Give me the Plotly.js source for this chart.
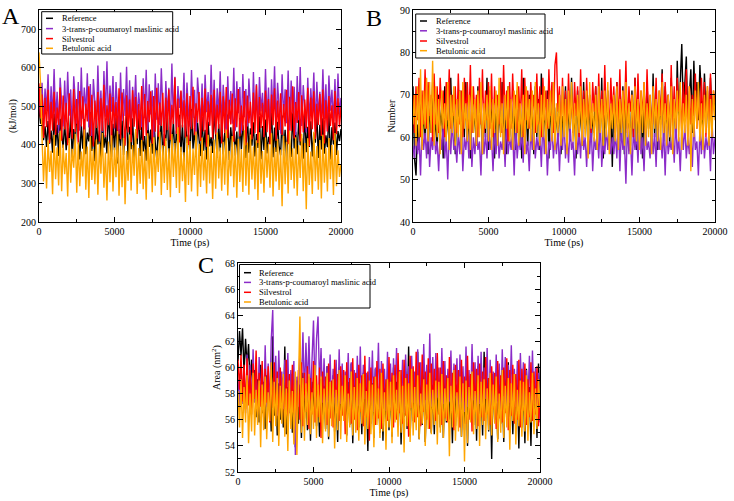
<!DOCTYPE html>
<html>
<head>
<meta charset="utf-8">
<script src="https://cdn.plot.ly/plotly-3.0.1.min.js"></script>
<style>html,body{margin:0;padding:0;background:#fff;}#chart{width:734px;height:501px;}</style>
</head>
<body>
<div id="chart"></div>
<script>
// ---------- DATA ----------
const seriesNames = ["Reference", "3-trans-p-coumaroyl maslinic acid", "Silvestrol", "Betulonic acid"];
const seriesColors = ["#000000", "#8B2BC8", "#FF0000", "#FFA500"];
const timeMax = 20000;

// Panel A: energy (kJ/mol)
const energyReference = [500,455,470,412,448,395,462,403,437,380,481,398,452,371,468,420,392,459,386,444,
405,476,367,441,398,489,415,362,453,390,467,376,432,409,485,384,449,358,471,401,
438,365,462,393,426,378,494,407,369,455,386,472,352,441,397,463,374,418,481,361,
447,389,469,366,433,402,490,371,456,383,423,359,466,395,440,377,475,404,363,451,
388,470,372,429,410,486,364,448,392,461,369,437,398,478,381,452,356,466,405,427,
376,493,390,444,368,458,401,371,473,385,439,362,460,396,420,379,488,408,367,454,
383,468,375,431,400,479,361,446,394,463,372,435,357,470,389,451,406,366,484,380,
443,398,459,370,428,392,474,363,449,387,466,378,421,403,491,368,445,382,460,397,
373,476,385,439,359,457,404,369,482,391,434,376,465,399,417,364,488,381,447,395,
461,370,430,406,478,366,452,388,469,377,425,394,484,362,446,401,458,374,436,410,441];
const energyMaslinic = [530,478,561,452,546,489,583,441,552,470,597,463,538,431,574,495,448,567,459,590,
476,544,427,578,501,455,563,437,601,468,549,480,586,445,558,423,571,492,451,606,
466,541,434,592,473,617,458,554,486,579,440,563,497,428,588,462,545,475,603,449,
568,426,551,484,581,457,536,493,446,573,469,595,438,557,479,542,421,585,465,560,
452,599,488,433,566,474,548,443,611,460,577,429,553,496,539,467,587,436,562,481,
447,594,470,543,425,575,499,458,559,439,582,485,537,450,608,463,569,432,547,477,
591,444,556,490,424,578,468,540,455,600,437,565,482,550,430,584,472,545,448,572,
494,427,589,461,558,441,576,487,535,453,597,466,549,434,570,478,604,445,561,491,
429,583,471,544,456,593,438,567,483,551,426,579,464,602,449,555,495,432,574,459,
547,480,588,442,564,473,538,451,596,467,557,435,580,489,543,457,571,446,585,476,522];
const energySilvestrol = [560,470,531,418,522,446,543,405,512,437,538,426,497,452,549,411,528,440,509,399,
534,457,416,545,433,519,402,540,448,526,414,507,461,552,423,530,396,515,444,537,
409,521,436,556,420,503,451,533,401,524,443,511,428,547,415,536,455,398,529,432,
518,407,542,447,525,417,506,439,553,412,532,424,514,459,539,403,527,434,548,421,
510,449,535,397,523,438,544,413,504,454,575,429,520,406,541,445,516,419,534,400,
527,441,551,425,508,458,537,410,522,435,546,395,513,450,530,416,543,427,505,442,
538,404,526,431,550,418,517,453,533,408,521,446,545,422,502,437,540,399,528,456,
512,414,536,430,555,405,524,444,509,420,541,433,519,401,531,451,547,411,515,439,
534,426,506,448,543,402,525,436,552,417,511,457,537,409,529,432,518,444,548,397,
523,441,539,415,507,452,532,423,544,404,516,435,527,449,503,412,540,428,521,446,498];
const energyBetulonic = [640,560,420,305,398,287,412,330,385,272,426,311,394,295,437,280,401,324,379,266,
418,302,390,341,429,276,407,293,383,318,440,284,396,262,421,309,389,298,414,271,
402,325,431,289,380,256,409,303,425,279,393,316,436,268,398,290,418,246,384,307,
427,282,400,320,441,273,392,299,413,285,388,258,430,312,404,277,420,294,386,330,
434,270,399,301,417,283,391,264,428,317,405,288,446,275,395,306,381,252,422,296,
410,279,390,322,435,267,403,291,419,308,387,274,426,300,397,260,414,286,432,313,
393,281,408,297,440,269,385,319,423,290,401,263,416,304,389,278,438,294,406,271,
427,310,396,285,412,257,433,299,384,276,419,315,402,289,430,266,394,305,415,283,
388,241,424,298,408,274,437,309,391,287,420,268,399,314,429,280,405,233,417,296,
383,273,434,306,397,284,413,261,426,302,392,279,418,311,400,270,431,293,386,317,350];

// Panel B: number
const numberReference = [72,55,51,63,57,69,58,66,60,71,56,68,61,73,59,65,57,70,62,67,
55,72,60,66,58,74,61,69,56,67,63,71,57,68,60,73,59,65,55,70,
61,67,58,72,62,69,56,66,60,74,57,71,63,68,55,70,59,66,61,73,
58,67,56,72,60,69,62,65,57,71,59,68,55,74,61,66,58,70,63,67,
56,72,60,69,57,75,62,66,59,71,55,68,61,73,58,67,60,70,56,65,
63,72,57,69,59,74,61,66,55,71,60,68,58,73,62,67,56,70,59,65,
61,72,57,69,60,74,55,66,62,71,58,68,53,70,61,73,57,67,59,72,
56,69,62,65,58,71,60,74,57,68,61,70,55,67,59,73,62,69,58,75,
60,71,57,68,63,76,59,72,61,70,58,74,62,69,60,78,64,73,82,66,
72,79,63,70,76,61,78,67,73,64,77,69,62,75,66,71,60,74,65,70,67];
const numberMaslinic = [58,55,62,56,60,51,63,57,61,55,64,53,60,57,62,56,59,52,61,57,
63,55,60,50,62,56,64,57,59,54,61,56,63,52,60,57,62,55,64,53,
60,56,62,57,59,51,63,56,61,55,64,57,60,52,62,56,63,55,59,57,
61,53,64,56,60,57,62,51,63,55,60,57,61,54,64,56,59,52,62,57,
63,55,60,57,61,53,64,56,62,51,59,57,63,55,60,56,62,52,61,57,
64,55,60,54,63,57,59,51,62,56,61,55,64,57,60,53,62,56,63,52,
60,57,61,55,64,53,59,56,62,57,63,56,60,56,61,55,64,52,62,57,
59,49,63,56,60,51,62,57,61,54,64,56,60,52,63,57,59,55,62,56,
61,53,64,57,60,55,62,51,63,56,59,57,61,54,64,56,60,52,62,57,
63,55,60,56,61,53,64,57,59,51,62,56,63,55,60,57,61,52,64,56,60];
const numberSilvestrol = [70,61,72,64,74,60,71,63,76,62,73,65,70,59,75,63,72,61,74,66,
71,60,73,64,76,62,70,65,72,61,75,63,71,60,74,64,73,62,77,61,
72,65,70,60,74,63,76,61,71,64,73,62,75,60,72,66,70,63,74,61,
77,64,71,59,73,62,75,65,70,61,72,63,76,60,74,64,71,62,73,66,
70,61,75,63,72,60,74,64,71,62,76,65,73,61,77,80,66,72,60,74,
63,71,62,75,64,70,61,73,65,72,60,76,63,71,62,74,64,70,61,73,
66,72,60,75,63,71,62,77,64,70,61,74,65,72,60,73,63,76,62,71,
64,78,61,72,66,70,60,74,63,75,62,71,65,73,61,76,64,70,60,72,
63,74,62,71,65,75,61,73,64,70,60,77,63,72,62,74,66,71,61,73,
64,76,60,72,63,70,65,75,62,71,61,74,64,73,60,72,63,75,62,71,68];
const numberBetulonic = [63,70,58,72,60,76,57,71,62,74,59,73,61,78,58,72,60,69,56,71,
62,68,59,73,57,70,61,72,58,69,60,71,56,73,62,68,59,70,57,72,
61,69,58,71,60,73,56,68,62,70,59,72,57,69,61,71,58,74,60,68,
56,70,62,72,59,69,57,71,61,73,58,68,60,70,56,72,62,69,59,71,
57,73,61,68,58,70,60,72,56,69,62,71,59,73,57,68,61,70,58,72,
60,69,56,71,62,73,59,68,57,70,61,72,58,69,60,71,55,73,62,68,
59,70,57,72,61,69,58,71,60,73,56,68,62,70,59,72,57,69,61,71,
58,73,60,68,56,70,62,72,59,69,57,71,61,73,58,68,60,70,56,72,
62,69,59,71,57,73,61,68,58,70,60,72,56,69,62,71,59,73,57,68,
61,70,58,72,52,69,60,71,62,73,59,68,57,70,61,72,58,69,60,71,64];

// Panel C: area (nm^2)
const areaReference = [60.5,62.8,60.9,63.0,59.6,62.2,60.1,61.8,58.7,60.6,57.4,59.8,56.2,59.1,55.8,60.2,56.5,58.9,55.3,59.4,
56.8,58.6,55.1,62.4,56.3,59.7,54.8,58.8,56.0,59.2,55.4,61.6,54.9,58.5,56.6,59.5,55.0,58.3,53.9,59.0,
55.7,58.7,54.6,59.6,56.1,58.4,55.2,59.3,54.4,58.9,56.4,59.8,55.5,58.2,54.7,59.1,56.0,58.6,55.3,60.1,
54.5,58.8,56.2,59.4,55.1,58.3,54.3,59.7,55.9,58.5,56.7,59.2,54.8,58.9,55.6,60.3,54.2,58.7,56.3,59.0,
55.4,58.4,54.9,59.6,56.1,58.6,53.6,59.3,55.7,58.8,54.6,59.9,56.4,58.2,55.0,59.5,54.4,58.7,56.0,59.1,
55.2,58.5,54.7,60.0,56.5,58.9,55.5,59.4,54.1,58.3,56.2,59.7,55.3,61.6,54.8,58.6,55.9,59.2,56.6,61.2,
54.5,58.8,55.6,59.5,54.3,58.4,56.1,59.9,55.0,58.7,54.9,59.3,56.3,58.5,55.4,60.2,54.6,58.9,55.8,59.0,
56.0,58.3,54.2,59.6,55.5,58.7,56.4,59.4,54.7,58.6,55.2,60.4,54.0,59.1,56.2,58.8,55.6,59.7,54.4,60.1,
55.9,58.5,54.8,61.2,56.3,59.2,55.1,58.9,53.0,59.5,56.0,58.4,54.5,59.8,55.7,58.7,54.3,59.3,56.5,60.4,
55.0,58.6,54.9,59.1,56.1,58.8,53.8,59.6,55.4,58.3,54.2,59.9,55.8,58.5,54.0,59.4,56.2,58.9,54.6,60.3,57.0];
const areaMaslinic = [59.1,56.8,60.4,57.2,59.8,56.5,61.0,57.5,60.2,56.9,61.4,57.3,59.6,56.4,60.8,57.8,59.9,56.6,61.7,57.0,
60.3,56.7,62.1,64.4,57.4,60.9,56.3,61.3,57.6,59.7,56.8,60.6,57.1,61.1,56.5,59.8,57.9,60.5,53.3,59.3,
57.0,61.6,58.4,62.7,57.8,61.9,58.2,62.4,57.5,61.2,63.6,58.0,62.2,63.9,58.6,61.5,57.3,60.7,56.9,60.1,
57.4,61.0,56.6,59.9,57.7,60.6,56.4,61.4,57.2,60.3,56.8,59.7,57.5,61.1,56.5,60.4,57.9,59.8,56.7,60.9,
57.1,61.6,56.3,60.2,57.6,59.6,56.9,60.8,57.3,61.3,56.6,60.0,57.8,61.9,56.4,60.5,57.0,59.9,56.7,61.2,
57.4,60.3,56.2,60.7,57.7,61.5,56.8,59.8,57.2,60.6,56.5,61.0,57.6,60.1,56.9,60.9,57.3,59.7,56.6,61.4,
57.1,60.4,56.3,61.8,57.5,60.2,56.8,62.6,57.0,60.8,56.4,61.1,57.7,60.0,56.7,61.5,57.2,60.5,56.5,59.9,
57.4,61.3,56.9,60.3,57.8,60.7,56.2,61.0,57.3,60.1,56.6,61.6,57.0,59.8,56.8,61.8,57.5,60.4,56.4,60.9,
57.2,61.2,56.7,60.0,57.6,61.5,56.3,60.6,57.1,59.7,56.9,61.0,57.4,60.3,56.5,61.4,57.8,60.8,56.6,60.2,
57.3,61.7,56.8,59.9,57.0,60.5,56.4,61.1,57.7,60.4,56.2,59.8,57.5,60.9,56.7,61.3,57.2,60.0,55.9,59.6,55.8];
const areaSilvestrol = [60.6,58.3,61.0,57.4,60.2,56.8,60.7,57.1,59.8,56.4,60.3,57.6,61.3,56.6,59.6,57.0,60.5,56.2,59.9,57.3,
60.1,55.8,59.4,56.9,60.4,56.1,59.7,55.6,60.0,56.7,59.3,55.4,60.6,56.3,59.5,55.9,60.2,56.5,59.1,55.7,
59.8,56.0,60.4,55.5,59.6,56.6,60.1,55.3,59.2,56.4,60.5,55.8,59.4,56.2,60.0,54.6,59.7,56.8,59.3,55.6,
60.3,56.1,59.0,55.4,60.6,56.7,59.5,55.9,60.1,56.3,59.8,54.9,60.4,56.5,59.2,55.7,60.7,56.0,59.6,55.2,
60.2,56.6,59.4,55.5,60.9,56.2,59.7,54.4,60.0,56.8,59.3,55.6,60.5,56.1,59.9,55.3,60.3,56.4,59.1,55.9,
60.8,56.7,59.6,55.4,60.2,56.0,61.1,56.5,59.8,55.7,60.6,56.3,59.5,54.7,60.9,56.9,60.1,55.8,61.2,56.2,
60.4,55.5,61.0,56.6,59.7,56.0,60.7,55.3,60.3,56.8,59.9,55.9,61.1,56.4,60.0,55.6,60.5,56.1,59.4,55.8,
60.8,56.5,59.6,55.2,60.2,56.7,59.8,55.4,60.6,56.3,59.3,55.7,60.9,56.0,59.5,55.1,60.4,56.6,59.9,55.5,
60.3,56.2,59.7,55.9,60.8,56.4,59.2,55.6,60.1,56.8,59.6,55.3,60.5,56.1,59.4,55.8,60.0,56.5,60.7,55.2,
59.8,56.3,60.2,55.7,59.5,56.0,60.6,55.4,59.9,56.7,60.3,55.6,59.1,56.2,60.4,55.9,59.7,56.4,60.1,55.5,58.2];
const areaBetulonic = [58.2,55.4,59.1,54.6,58.5,55.8,59.4,54.2,58.0,55.1,59.6,54.8,58.3,55.6,59.0,53.9,58.7,55.2,59.3,54.5,
58.1,55.9,60.4,54.3,58.9,55.5,59.2,54.0,58.6,55.7,59.5,54.7,58.4,53.6,59.0,55.3,58.2,54.1,59.7,53.3,
58.5,63.9,55.0,59.2,54.4,58.8,55.6,59.5,54.9,58.1,55.3,60.2,54.6,58.7,55.8,59.3,54.2,58.4,55.1,59.6,
54.7,58.9,55.5,59.1,53.8,58.3,55.2,59.8,54.5,58.6,55.9,59.4,54.3,58.0,55.4,59.7,54.8,58.5,55.0,59.2,
54.4,58.8,55.7,59.5,54.1,58.2,55.3,59.0,54.9,58.7,53.9,59.3,55.6,58.4,54.6,59.6,55.1,58.1,53.7,59.1,
55.4,58.9,54.2,59.4,55.8,58.3,54.7,59.7,55.0,58.6,53.5,59.2,55.5,58.8,54.3,59.9,54.8,58.5,55.2,59.4,
54.5,58.0,55.7,59.1,54.0,58.7,55.3,59.6,54.9,58.3,55.6,59.0,54.1,58.9,55.0,59.5,54.6,58.4,55.9,59.2,
53.2,58.6,55.4,59.8,54.4,58.1,55.1,59.3,54.7,58.8,52.8,59.0,54.2,58.5,55.8,59.7,54.9,58.2,55.3,59.4,
54.0,58.9,55.6,59.1,54.5,58.4,55.2,59.6,54.8,58.7,55.7,59.3,54.3,58.0,55.0,59.8,54.6,58.6,55.4,59.2,
53.7,58.8,55.9,59.5,54.1,58.3,55.5,59.0,54.7,58.9,55.1,59.4,54.4,58.1,55.8,59.6,54.9,58.4,55.3,59.1,56.9];

// Axis tick settings
const xTickVals = [0, 5000, 10000, 15000, 20000];
const energyRange = [200, 750];
const numberRange = [40, 90];
const areaRange = [52, 68];

// ---------- LAYOUT HELPERS ----------
const W = 734, H = 501;
const fx = p => p / W;
const fy = p => 1 - p / H;
const FONT = "Liberation Serif";

function timeOf(arr) { return arr.map((_, i) => i * timeMax / (arr.length - 1)); }

const panels = [
  { xa: "x", ya: "y", data: [energyReference, energyMaslinic, energySilvestrol, energyBetulonic],
    box: [41.7, 11.7, 172.7, 54], rows: [18.3, 28.6, 38.6, 48.3], lineX: [46, 53], textX: 60 },
  { xa: "x2", ya: "y2", data: [numberReference, numberMaslinic, numberSilvestrol, numberBetulonic],
    box: [415.7, 14, 545, 58], rows: [21, 30.8, 41, 50.7], lineX: [420, 427], textX: 434 },
  { xa: "x3", ya: "y3", data: [areaReference, areaMaslinic, areaSilvestrol, areaBetulonic],
    box: [239.5, 264.5, 370, 308], rows: [272.7, 282.4, 292.3, 302], lineX: [244, 251], textX: 257 }
];

const traces = [];
const shapes = [];
const annotations = [];

panels.forEach(p => {
  p.data.forEach((arr, k) => {
    traces.push({
      x: timeOf(arr), y: arr, type: "scatter", mode: "lines",
      line: { color: seriesColors[k], width: 1.4 },
      xaxis: p.xa, yaxis: p.ya, showlegend: false, hoverinfo: "skip", name: seriesNames[k]
    });
  });
  // manual legend
  shapes.push({ type: "rect", xref: "paper", yref: "paper",
    x0: fx(p.box[0]), x1: fx(p.box[2]), y0: fy(p.box[3]), y1: fy(p.box[1]),
    line: { color: "#000", width: 1 }, fillcolor: "#fff", layer: "above" });
  seriesNames.forEach((nm, k) => {
    shapes.push({ type: "line", xref: "paper", yref: "paper",
      x0: fx(p.lineX[0]), x1: fx(p.lineX[1]), y0: fy(p.rows[k]), y1: fy(p.rows[k]),
      line: { color: seriesColors[k], width: 1.5 }, layer: "above" });
    annotations.push({ xref: "paper", yref: "paper", x: fx(p.textX), y: fy(p.rows[k]),
      xanchor: "left", yanchor: "middle", showarrow: false, text: nm,
      font: { family: FONT, size: 8.5, color: "#000" } });
  });
});

// panel letters
[["A", 11, 16], ["B", 374, 18], ["C", 206, 265]].forEach(([t, x, y]) => {
  annotations.push({ xref: "paper", yref: "paper", x: fx(x), y: fy(y), xanchor: "center", yanchor: "middle",
    showarrow: false, text: t, font: { family: FONT, size: 24, color: "#000" } });
});

function xAxis(domain, anchor) {
  return {
    domain: domain, anchor: anchor, range: [0, timeMax], tickvals: xTickVals, tickformat: "d",
    ticks: "inside", ticklen: 5, tickwidth: 1, tickcolor: "#000",
    minor: { dtick: 2500, ticks: "inside", ticklen: 3, tickcolor: "#000", showgrid: false },
    showline: true, linecolor: "#000", linewidth: 1, mirror: "allticks",
    showgrid: false, zeroline: false,
    tickfont: { family: FONT, size: 10, color: "#000" },
    title: { text: "Time (ps)", font: { family: FONT, size: 10, color: "#000" }, standoff: 1 }
  };
}
function yAxis(domain, anchor, range, dtick, minorDtick, title) {
  return {
    domain: domain, anchor: anchor, range: range, dtick: dtick, tick0: range[0],
    ticks: "inside", ticklen: 5, tickwidth: 1, tickcolor: "#000",
    minor: { dtick: minorDtick, ticks: "inside", ticklen: 3, tickcolor: "#000", showgrid: false },
    showline: true, linecolor: "#000", linewidth: 1, mirror: "allticks",
    showgrid: false, zeroline: false,
    tickfont: { family: FONT, size: 10, color: "#000" },
    title: { text: title, font: { family: FONT, size: 10, color: "#000" }, standoff: 2 }
  };
}

const yTop = [fy(222), fy(10)];
const yBot = [fy(472), fy(263)];

const layout = {
  width: W, height: H, margin: { l: 0, r: 0, t: 0, b: 0 },
  paper_bgcolor: "#fff", plot_bgcolor: "#fff", showlegend: false,
  font: { family: FONT, size: 10, color: "#000" },
  xaxis: xAxis([fx(39), fx(341)], "y"),
  yaxis: yAxis(yTop, "x", energyRange, 100, 50, "(kJ/mol)"),
  xaxis2: xAxis([fx(413), fx(715)], "y2"),
  yaxis2: yAxis(yTop, "x2", numberRange, 10, 5, "Number"),
  xaxis3: xAxis([fx(238), fx(540)], "y3"),
  yaxis3: yAxis(yBot, "x3", areaRange, 2, 1, "Area (nm<sup>2</sup>)"),
  shapes: shapes, annotations: annotations
};

Plotly.newPlot("chart", traces, layout, { staticPlot: true, displayModeBar: false });
</script>
</body>
</html>
